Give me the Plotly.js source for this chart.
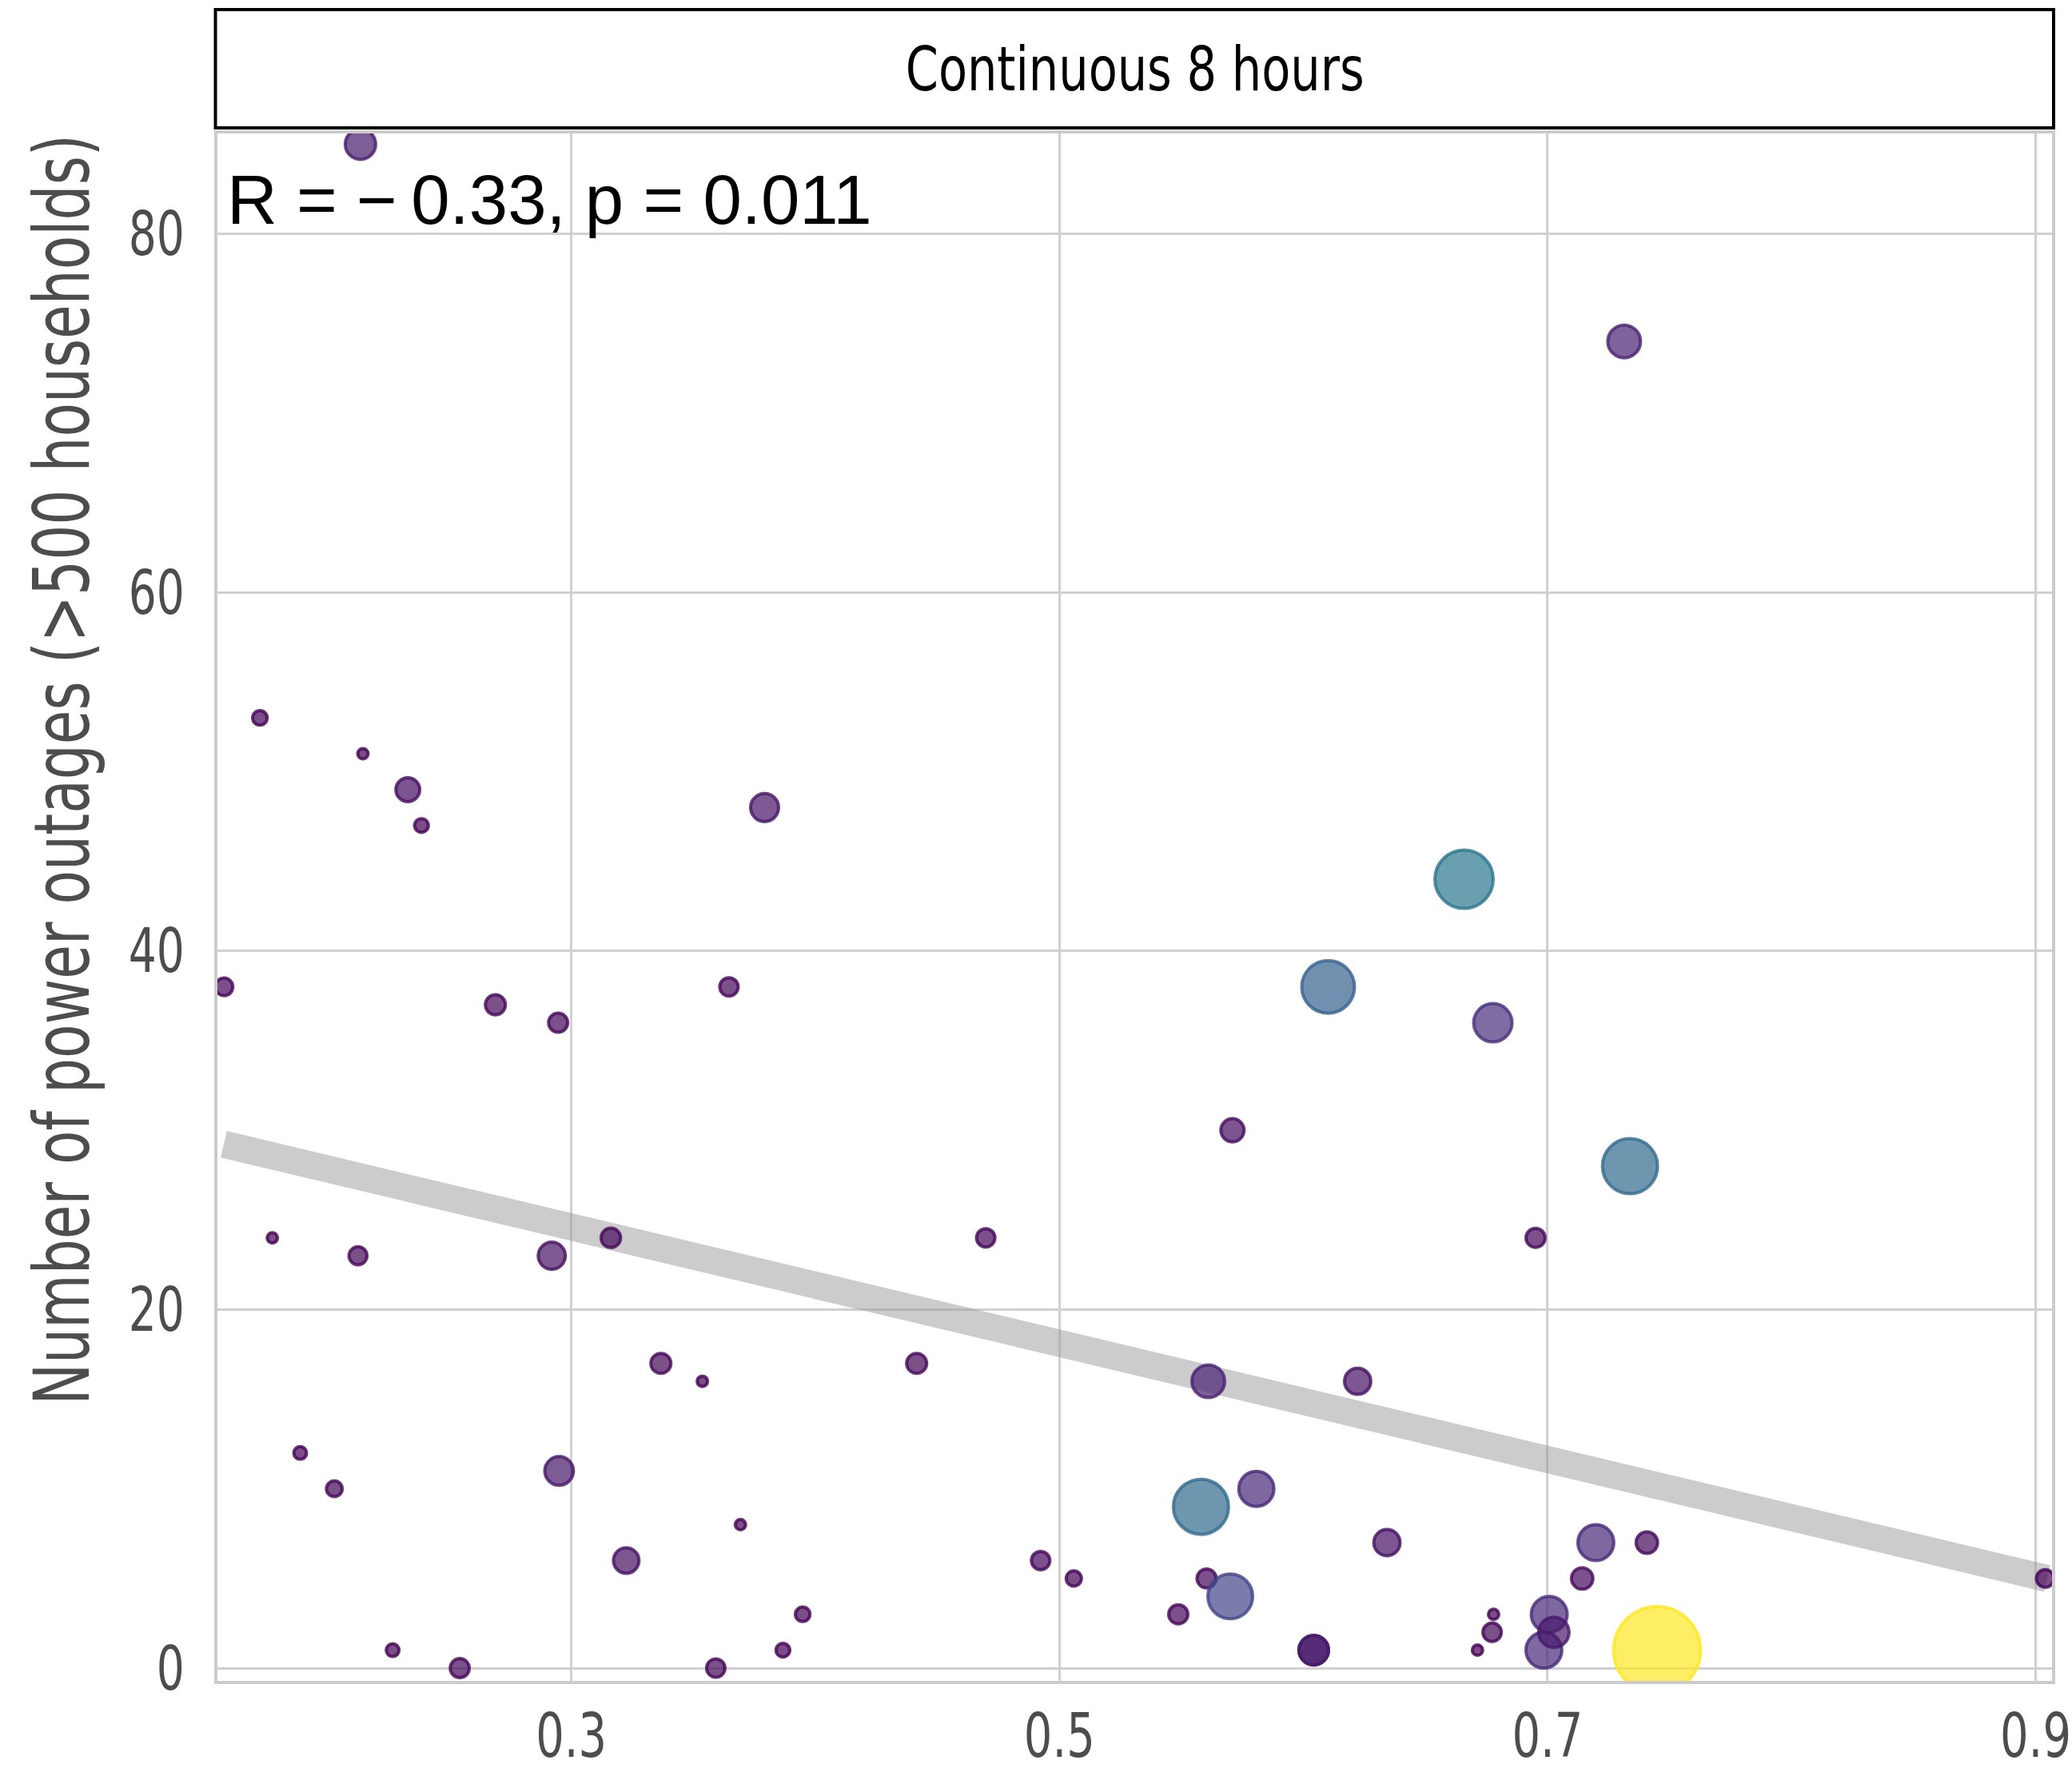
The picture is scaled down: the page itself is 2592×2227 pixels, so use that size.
<!DOCTYPE html>
<html>
<head>
<meta charset="utf-8">
<script src="https://cdn.plot.ly/plotly-3.0.1.min.js"></script>
<style>
  html, body { margin: 0; padding: 0; background: #ffffff; }
  #chart { width: 2592px; height: 2227px; }
</style>
</head>
<body>
<div id="chart"></div>
<script>
// ---- Data ----
// x: share (0-1), y: number of power outages (>500 households),
// value: third variable mapped to point size and colour (relative units)
const powerX = [0.2136, 0.7314, 0.1724, 0.2146, 0.2330, 0.2386, 0.3792, 0.6658, 0.1577, 0.3646,
                0.6101, 0.2689, 0.2946, 0.6776, 0.5709, 0.7338, 0.1775, 0.3162, 0.4698, 0.6951,
                0.2126, 0.2920, 0.3367, 0.4415, 0.3537, 0.5610, 0.6222, 0.1889, 0.2029, 0.2950,
                0.5807, 0.5580, 0.3693, 0.3225, 0.4923, 0.6342, 0.7198, 0.7407, 0.5059, 0.5603,
                0.7142, 0.9039, 0.5700, 0.3948, 0.5487, 0.6779, 0.7007, 0.6773, 0.6985, 0.7026,
                0.2268, 0.3867, 0.6042, 0.6042, 0.6713, 0.7449, 0.2543, 0.3592];
const outages = [85, 74, 53, 51, 49, 47, 48, 44, 38, 38,
                 38, 37, 36, 36, 30, 28, 24, 24, 24, 24,
                 23, 23, 17, 17, 16, 16, 16, 12, 10, 11,
                 10, 9, 8, 6, 6, 7, 7, 7, 5, 5,
                 5, 5, 4, 3, 3, 3, 3, 2, 1, 2,
                 1, 1, 1, 1, 1, 1, 0, 0];
const value = [6.8, 8.5, 0.3, 0.0, 3.1, 0.2, 5.3, 39.1, 0.9, 1.1,
               30.5, 1.6, 1.3, 13.3, 2.8, 34.0, 0.0, 1.4, 1.1, 1.3,
               1.0, 4.8, 1.6, 1.6, 0.0, 8.5, 4.3, 0.1, 0.5, 5.7,
               10.4, 34.0, 0.0, 3.9, 1.1, 4.3, 11.1, 2.1, 0.4, 1.3,
               2.1, 0.9, 20.1, 0.3, 1.3, 0.0, 11.1, 1.1, 11.1, 6.8,
               0.1, 0.2, 6.3, 6.3, 0.0, 100, 1.3, 1.1];

// fitted trend line end points
const trendX = [0.1576, 0.9047];
const trendY = [29.22, 5.0];

const xTicks = [0.3, 0.5, 0.7, 0.9];
const xTickText = ["0.3", "0.5", "0.7", "0.9"];
const yTicks = [0, 20, 40, 60, 80];
const yTickText = ["0", "20", "40", "60", "80"];

const panelTitle = "Continuous 8 hours";
const yTitle = "Number of power outages (>500 households)";
const statLabel = "R = \u2212\u20090.33, p = 0.011";

// condensed face; glyphs are narrowed further after drawing to match the reference widths
const NARROW = "'Liberation Sans Narrow', 'Arial Narrow', 'DejaVu Sans Condensed', 'DejaVu Sans', sans-serif";

// ---- scales ----
const viridis = ["#440154","#482576","#414487","#35608D","#2A788E","#21908C",
                 "#22A884","#43BF71","#7AD151","#BBDF27","#FDE725"];
function hexToRgb(h) {
  return [parseInt(h.slice(1,3),16), parseInt(h.slice(3,5),16), parseInt(h.slice(5,7),16)];
}
function viridisColor(t, alpha) {
  t = Math.max(0, Math.min(1, t));
  const pos = t * (viridis.length - 1);
  const i = Math.min(Math.floor(pos), viridis.length - 2);
  const f = pos - i;
  const a = hexToRgb(viridis[i]), b = hexToRgb(viridis[i+1]);
  const c = a.map((v, k) => Math.round(v + (b[k] - v) * f));
  return "rgba(" + c[0] + "," + c[1] + "," + c[2] + "," + alpha + ")";
}
const vMin = Math.min(...value), vMax = Math.max(...value);
const rescaled = value.map(v => (v - vMin) / (vMax - vMin));
const STROKE = 4;
// area scale: diameter grows with sqrt of rescaled value
const sizes = rescaled.map(t => 17 + 96 * Math.sqrt(t) - STROKE);
const fills = rescaled.map(t => viridisColor(t, 0.7));
const rings = rescaled.map(t => viridisColor(t, 0.8));

const traces = [
  {
    x: trendX, y: trendY, type: "scatter", mode: "lines",
    line: { color: "rgba(153,153,153,0.5)", width: 34 },
    hoverinfo: "skip", showlegend: false
  },
  {
    x: powerX, y: outages, type: "scatter", mode: "markers",
    marker: {
      size: sizes, sizemode: "diameter",
      opacity: 1,
      color: fills,
      line: { color: rings, width: STROKE }
    },
    cliponaxis: true,
    hoverinfo: "x+y", showlegend: false
  }
];

// pixel helpers for placing decorations relative to plot area
const W = 2592, H = 2227;
const M = { l: 272, r: 25, t: 167, b: 124 };
const PW = W - M.l - M.r, PH = H - M.t - M.b;
const px2x = p => (p - M.l) / PW;
const py2y = p => (H - M.b - p) / PH;

const TICK_SIZE = 76;

const layout = {
  width: W, height: H,
  margin: M,
  paper_bgcolor: "#ffffff",
  plot_bgcolor: "#ffffff",
  showlegend: false,
  xaxis: {
    range: [0.15500, 0.90671],
    tickvals: xTicks, ticktext: xTickText,
    showgrid: true, gridcolor: "#d0d0d0", gridwidth: 3,
    zeroline: false,
    showline: true, linecolor: "#cccccc", linewidth: 4, mirror: true,
    ticks: "",
    ticklabeloverflow: "allow",
    tickfont: { family: NARROW, size: TICK_SIZE, color: "#4d4d4d" }
  },
  yaxis: {
    range: [-0.713, 85.6],
    tickvals: yTicks, ticktext: yTickText,
    showgrid: true, gridcolor: "#d0d0d0", gridwidth: 3,
    zeroline: false,
    showline: true, linecolor: "#cccccc", linewidth: 4, mirror: true,
    ticks: "",
    ticklabelstandoff: 22,
    ticklabeloverflow: "allow",
    tickfont: { family: NARROW, size: TICK_SIZE, color: "#4d4d4d" }
  },
  shapes: [
    {
      type: "rect", xref: "paper", yref: "paper",
      x0: px2x(269.5), x1: px2x(2569), y0: py2y(160), y1: py2y(12),
      line: { color: "#000000", width: 4 }, fillcolor: "#ffffff", layer: "above"
    }
  ],
  annotations: [
    {
      text: panelTitle, xref: "paper", yref: "paper",
      x: px2x(1419.5), y: py2y(86), xanchor: "center", yanchor: "middle",
      showarrow: false, font: { family: NARROW, size: 76, color: "#000000" }
    },
    {
      text: yTitle, xref: "paper", yref: "paper",
      x: px2x(78), y: py2y(963), xanchor: "center", yanchor: "middle",
      textangle: -90, showarrow: false,
      font: { family: NARROW, size: 96, color: "#4d4d4d" }
    },
    {
      text: statLabel, xref: "paper", yref: "paper",
      x: px2x(282), y: py2y(249), xanchor: "left", yanchor: "middle",
      showarrow: false,
      font: { family: "'Liberation Sans', Arial, Helvetica, sans-serif", size: 87, color: "#000000" }
    }
  ]
};

// narrow a drawn text element horizontally, keeping the chosen anchor point fixed
function condense(el, targetWidth, anchor) {
  const bb = el.getBBox();
  if (!bb.width) return;
  const sx = Math.min(1, targetWidth / bb.width);
  const ax = anchor === "end" ? bb.x + bb.width : (anchor === "start" ? bb.x : bb.x + bb.width / 2);
  const prev = el.getAttribute("transform") || "";
  el.setAttribute("transform", (prev + " translate(" + (ax * (1 - sx)) + ",0) scale(" + sx + ",1)").trim());
}

Plotly.newPlot("chart", traces, layout, { staticPlot: true, displayModeBar: false }).then(gd => {
  // reference widths (px) of the condensed texts
  const xt = gd.querySelectorAll(".xtick text");
  let ref03 = null;
  xt.forEach(t => { if (t.textContent === "0.3") ref03 = t.getBBox().width; });
  const sxX = ref03 ? Math.min(1, 89 / ref03) : 1;
  xt.forEach(t => condense(t, t.getBBox().width * sxX, "middle"));

  const yt = gd.querySelectorAll(".ytick text");
  let ref80 = null;
  yt.forEach(t => { if (t.textContent === "80") ref80 = t.getBBox().width; });
  const sxY = ref80 ? Math.min(1, 70 / ref80) : 1;
  yt.forEach(t => condense(t, t.getBBox().width * sxY, "end"));

  gd.querySelectorAll("g.annotation").forEach(g => {
    const t = g.querySelector("text");
    if (!t) return;
    if (t.textContent === panelTitle) condense(t, 574, "middle");
    else if (t.textContent === yTitle) condense(t, 1590, "middle");
  });
});
</script>
</body>
</html>
